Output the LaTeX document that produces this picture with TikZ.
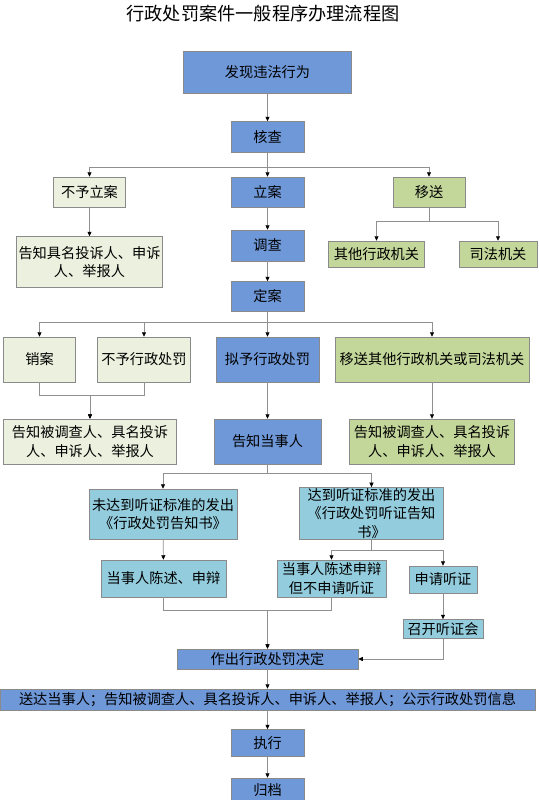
\documentclass[tikz,border=0pt]{standalone}
\usepackage{fontspec}
\newfontfamily\cjk{Noto Sans CJK SC}
\usetikzlibrary{arrows.meta,positioning}
\definecolor{mainfill}{HTML}{6F98D8}
\definecolor{palefill}{HTML}{EBF1DE}
\definecolor{olivefill}{HTML}{C4D79B}
\definecolor{aquafill}{HTML}{93CDDD}
\definecolor{boxline}{HTML}{8A8A8A}
\definecolor{linkline}{HTML}{909090}

\begin{document}
\begin{tikzpicture}[
  x=1pt, y=-1pt,
  font=\cjk\fontsize{14.2}{18.5}\selectfont,
  box/.style={draw=boxline, line width=0.5pt, rectangle, inner sep=1pt, align=center},
  mainbox/.style={box, fill=mainfill},
  palebox/.style={box, fill=palefill},
  olivebox/.style={box, fill=olivefill},
  aquabox/.style={box, fill=aquafill},
  arr/.style={-{Triangle[length=4.5pt,width=4pt,color=black]}, draw=linkline, line width=0.6pt},
  link/.style={draw=linkline, line width=0.6pt}
]
\useasboundingbox (0,0) rectangle (538,800);
\node[font=\cjk\fontsize{18.2}{20}\selectfont] (title) at (263,14) {行政处罚案件一般程序办理流程图};

\node[mainbox, minimum width=168pt, minimum height=42pt] (fx) at (267.5,72.5) {发现违法行为};
\node[mainbox, minimum width=73pt, minimum height=31pt] (hc) at (267.5,137) {核查};
\node[palebox, minimum width=72pt, minimum height=30pt] (byla) at (89.5,192) {不予立案};
\node[mainbox, minimum width=73pt, minimum height=30pt] (la) at (267.5,192) {立案};
\node[olivebox, minimum width=72pt, minimum height=30pt] (ys) at (429,192) {移送};
\node[palebox, minimum width=146pt, minimum height=51pt] (gzjm) at (89.5,262) {告知具名投诉人、申诉\\人、举报人};
\node[mainbox, minimum width=73pt, minimum height=31pt] (dc) at (267.5,245.5) {调查};
\node[olivebox, minimum width=96pt, minimum height=26pt] (qt) at (376.5,254) {其他行政机关};
\node[olivebox, minimum width=78pt, minimum height=26pt] (sf) at (498,254) {司法机关};
\node[mainbox, minimum width=73pt, minimum height=30pt] (da) at (267.5,296.5) {定案};

\node[palebox, minimum width=72pt, minimum height=45pt] (xa) at (39.5,359.5) {销案};
\node[palebox, minimum width=93pt, minimum height=45pt] (bycf) at (144,359.5) {不予行政处罚};
\node[mainbox, minimum width=103pt, minimum height=45pt] (nycf) at (267.5,359.5) {拟予行政处罚};
\node[olivebox, minimum width=194pt, minimum height=45pt] (yscf) at (432,359.5) {移送其他行政机关或司法机关};
\node[palebox, minimum width=173pt, minimum height=45pt] (gzl) at (90,441.5) {告知被调查人、具名投诉\\人、申诉人、举报人};
\node[mainbox, minimum width=107pt, minimum height=45pt] (gzdsr) at (267.5,441.5) {告知当事人};
\node[olivebox, minimum width=165pt, minimum height=45pt] (gzr) at (432,441.5) {告知被调查人、具名投诉\\人、申诉人、举报人};

\node[aquabox, minimum width=148pt, minimum height=50pt] (wdd) at (163,514) {未达到听证标准的发出\\《行政处罚告知书》};
\node[aquabox, minimum width=144pt, minimum height=51pt] (dd) at (371.5,513.5) {达到听证标准的发出\\《行政处罚听证告知\\书》};
\node[aquabox, minimum width=125pt, minimum height=37pt] (sb1) at (163.5,578.5) {当事人陈述、申辩};
\node[aquabox, minimum width=109pt, minimum height=37pt] (sb2) at (331.5,578.5) {当事人陈述申辩\\但不申请听证};
\node[aquabox, minimum width=68pt, minimum height=27pt] (sq) at (443,579.5) {申请听证};
\node[aquabox, minimum width=80pt, minimum height=19pt] (zk) at (443,629) {召开听证会};

\node[mainbox, minimum width=181pt, minimum height=20pt] (zc) at (267.5,659) {作出行政处罚决定};
\node[mainbox, minimum width=535pt, minimum height=21pt] (sd) at (267.5,699.5) {送达当事人；告知被调查人、具名投诉人、申诉人、举报人；公示行政处罚信息};
\node[mainbox, minimum width=73pt, minimum height=27pt] (zx) at (267.5,743) {执行};
\node[mainbox, minimum width=73pt, minimum height=24pt] (gd) at (267.5,790) {归档};

% upper part
\draw[arr] (fx) -- (hc);
\draw[arr] (hc) -- (la);
\draw[arr] (hc.south) -- ++(0,14.5) -| (byla.north);
\draw[arr] (hc.south) -- ++(0,14.5) -| (ys.north);
\draw[arr] (byla) -- (gzjm);
\draw[arr] (ys.south) -- ++(0,14.5) -| (qt.north);
\draw[arr] (ys.south) -- ++(0,14.5) -| (sf.north);
\draw[arr] (la) -- (dc);
\draw[arr] (dc) -- (da);

% after the case is settled
\draw[arr] (da) -- (nycf);
\draw[arr] (da.south) -- ++(0,10.5) -| (xa.north);
\draw[arr] (da.south) -- ++(0,10.5) -| (bycf.north);
\draw[arr] (da.south) -- ++(0,10.5) -| (yscf.north);
\draw[arr] (xa.south) -- ++(0,13) -| (gzl.north);
\draw[arr] (bycf.south) -- ++(0,13) -| (gzl.north);
\draw[arr] (nycf) -- (gzdsr);
\draw[arr] (yscf) -- (gzr);

% hearing
\draw[arr] (gzdsr.south) -- ++(0,9) -| (wdd.north);
\draw[arr] (gzdsr.south) -- ++(0,9) -| (dd.north);
\draw[arr] (wdd) -- (sb1);
\draw[arr] (dd.south) -- ++(0,10) -| (sb2.north);
\draw[arr] (dd.south) -- ++(0,10) -| (sq.north);
\draw[arr] (sq) -- (zk);
\draw[arr] (sb1.south) -- ++(0,13) -| (zc.north);
\draw[arr] (sb2.south) -- ++(0,13) -| (zc.north);
\draw[arr] (zk.south) |- (zc.east);

% decision and after
\draw[arr] (zc) -- (sd);
\draw[arr] (sd) -- (zx);
\draw[arr] (zx) -- (gd);
\end{tikzpicture}
\end{document}
